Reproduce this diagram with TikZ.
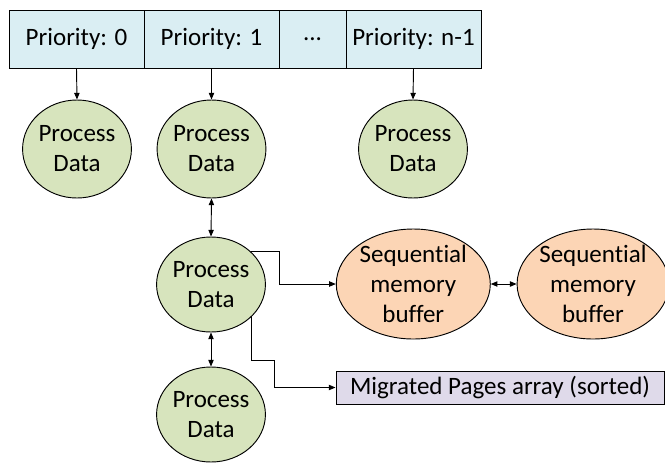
\documentclass[tikz,border=0pt]{standalone}
\usepackage{fontspec}
\setmainfont{Carlito}[Ligatures=NoCommon]
\usetikzlibrary{arrows.meta,shapes.geometric}

\definecolor{cellblue}{HTML}{DAEEF3}
\definecolor{procgreen}{HTML}{D7E4BD}
\definecolor{bufpeach}{HTML}{FCD5B5}
\definecolor{arraylilac}{HTML}{DFDAEA}

\begin{document}
\begin{tikzpicture}[x=0.75pt,y=-0.75pt,
  font=\fontsize{18.75}{22.5}\selectfont,
  cell/.style={draw=black,line width=0.75pt,fill=cellblue,rectangle,
    minimum height=43.5pt,inner sep=0pt,minimum width=101.25pt},
  proc/.style={draw=black,line width=0.7pt,fill=procgreen,ellipse,
    inner sep=0pt,minimum width=79.5pt,minimum height=73.5pt,align=center},
  buf/.style={draw=black,line width=0.7pt,fill=bufpeach,ellipse,
    inner sep=0pt,minimum width=115.5pt,minimum height=82.5pt,align=center},
  arr/.style={draw=black,line width=0.7pt,-{Triangle[length=5pt,width=4pt]}},
  dbl/.style={draw=black,line width=0.7pt,
    {Triangle[length=5pt,width=4pt]}-{Triangle[length=5pt,width=4pt]}}]

\clip (0,0) rectangle (665,462);

% priority queue cells
\node[cell] (c0) at (76.5,39) {Priority: 0};
\node[cell] (c1) at (211.5,39) {Priority: 1};
\node[cell,minimum width=50.25pt] (c2) at (312.5,39) {...};
\node[cell] (c3) at (413.5,39) {Priority: n-1};

% process data per priority
\node[proc] (p0) at (77,149) {Process\\Data};
\node[proc] (p1) at (211.5,149) {Process\\Data};
\node[proc] (p3) at (413,149) {Process\\Data};

\node[proc,minimum height=71.25pt] (pm) at (211,284.5) {Process\\Data};
\node[proc,minimum height=71.25pt] (pb) at (211,414.5) {Process\\Data};

% memory buffers and migrated pages
\node[buf] (s1) at (413.3,284) {Sequential\\memory\\buffer};
\node[buf,minimum width=106.5pt] (s2) at (593,284) {Sequential\\memory\\buffer};
\node[draw=black,line width=0.75pt,fill=arraylilac,rectangle,inner sep=0pt,
  minimum width=246pt,minimum height=24.75pt] (mig) at (500,387.5)
  {Migrated Pages array (sorted)};

% connectors
\draw[arr] (c0.south) -- (p0.north);
\draw[arr] (c1.south) -- (p1.north);
\draw[arr] (c3.south) -- (p3.north);

\draw[dbl] (p1.south) -- (pm.north);
\draw[dbl] (pm.south) -- (pb.north);
\draw[dbl] (s1.east) -- (s2.west);

\coordinate (b1) at (279,284);
\coordinate (b2) at (274,360);
\draw[arr] (pm.39) -| (b1) -- (s1.west);
\draw[arr] (pm.-38) |- (b2) |- (mig.west);

\end{tikzpicture}
\end{document}
